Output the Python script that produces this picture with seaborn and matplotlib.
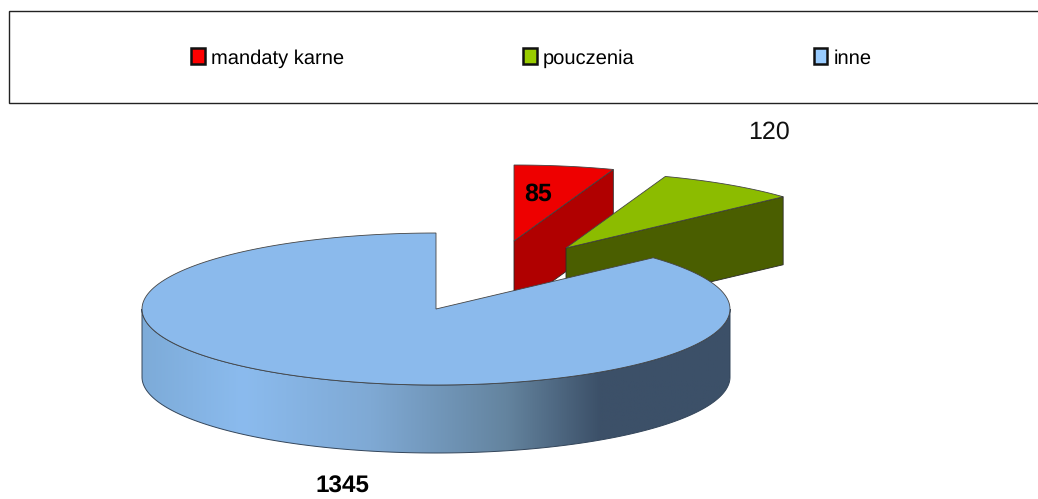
import numpy as np
import seaborn as sns
import matplotlib.pyplot as plt
from matplotlib.colors import LinearSegmentedColormap
from matplotlib.patches import Patch, PathPatch, Rectangle
from matplotlib.path import Path

categories = ["mandaty karne", "pouczenia", "inne"]
values = [85, 120, 1345]
top_colors = ["#ee0000", "#8cbc00", "#8bbaec"]
wall_colors = ["#b00000", "#4a5e00", "#3c5068"]
legend_colors = ["#ff0000", "#99cc00", "#99ccff"]

sns.set_theme(style="white")
plt.rcParams["font.family"] = ["Liberation Sans", "DejaVu Sans"]
plt.rcParams["text.hinting"] = "none"

RX, RY, DEPTH = 294, 76, 68
centers = [(514, 241), (566, 248), (436, 309)]


def wedge_points(center, start, stop):
    # arc runs clockwise from the start angle, apex closes the shape
    a = np.radians(np.linspace(start, stop, 200))
    x = center[0] + RX * np.cos(a)
    y = center[1] - RY * np.sin(a)
    return np.r_[center[0], x], np.r_[center[1], y]


fig, ax = plt.subplots(figsize=(10.38, 4.99), dpi=100)
fig.subplots_adjust(0, 0, 1, 1)
ax.set_xlim(0, 1038)
ax.set_ylim(499, 0)
ax.axis("off")

# slice angles, clockwise from 12 o'clock
sweep = np.array(values) / sum(values) * 360
stops = 90 - np.cumsum(sweep)
starts = np.r_[90, stops[:-1]]

# exploded slices: flat walls facing the viewer, then the top
for i in [0, 1]:
    xs, ys = wedge_points(centers[i], starts[i], stops[i])
    wall_x = [xs[0], xs[-1], xs[-1], xs[0]]
    wall_y = [ys[0], ys[-1], ys[-1] + DEPTH, ys[0] + DEPTH]
    ax.fill(wall_x, wall_y, color=wall_colors[i], ec="#2a2a2a", lw=0.6, zorder=2 + i)
    ax.fill(xs, ys, color=top_colors[i], ec="#444444", lw=0.6, zorder=2 + i)

# large slice: rim with a horizontal gradient
cx, cy = centers[2]
a = np.radians(np.linspace(180, 360, 300))
rim_x = cx + RX * np.cos(a)
rim_y = cy - RY * np.sin(a)
rim_verts = np.r_[np.c_[rim_x, rim_y], np.c_[rim_x[::-1], rim_y[::-1] + DEPTH]]
rim_path = Path(np.r_[rim_verts, rim_verts[:1]], closed=True)
rim_patch = PathPatch(rim_path, fc="none", ec="#33455a", lw=0.7, zorder=6)
ax.add_patch(rim_patch)
cmap = LinearSegmentedColormap.from_list(
    "rim",
    [(0, "#7dabd8"), (0.17, "#8bbbee"), (0.39, "#7fa9d4"), (0.62, "#64849f"),
     (0.78, "#3c5068"), (1, "#3c5068")],
)
grad = ax.imshow(
    np.linspace(0, 1, 256)[None, :], cmap=cmap, aspect="auto",
    extent=(cx - RX, cx + RX, cy + RY + DEPTH, cy), zorder=5,
)
grad.set_clip_path(rim_patch)
ax.set_xlim(0, 1038)
ax.set_ylim(499, 0)

xs, ys = wedge_points(centers[2], starts[2], stops[2])
ax.fill(xs, ys, color=top_colors[2], ec="#444444", lw=0.6, zorder=7)

# legend band runs off the right edge
ax.add_patch(Rectangle((8.5, 10.5), 1040, 92.5, fc="white", ec="#222222", lw=1, zorder=1))
handles = [Patch(fc=c, ec="#111111", lw=1.8) for c in legend_colors]
leg = ax.legend(
    handles, categories, ncol=3, frameon=False, fontsize=14.5,
    loc="center left", bbox_to_anchor=(191, 58), bbox_transform=ax.transData,
    handlelength=0.68, handleheight=0.85, handletextpad=0.3, columnspacing=8.9,
    borderpad=0, borderaxespad=0,
)
for t in leg.get_texts():
    t.set_color("black")

# data labels
ax.text(538, 194, str(values[0]), fontsize=18, fontweight="bold", ha="center", va="center", color="black", zorder=8)
ax.text(769, 132.5, str(values[1]), fontsize=18, ha="center", va="center", color="#111111", zorder=8)
ax.text(342, 493, str(values[2]), fontsize=17.5, fontweight="bold", ha="center", va="baseline", color="black", zorder=8)

fig.savefig("out.png", dpi=100)
